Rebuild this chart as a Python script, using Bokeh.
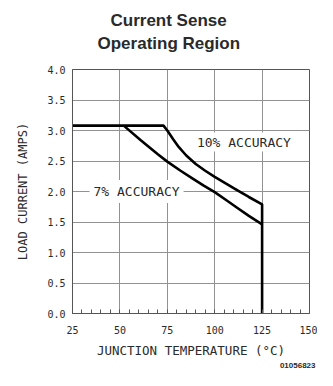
from bokeh.plotting import figure
from bokeh.models import FixedTicker, Label, NumeralTickFormatter, Title
from bokeh.embed import file_html
from bokeh.resources import INLINE

# ---- data ----
x_ticks = [25, 50, 75, 100, 125, 150]
x_minor = [v for v in range(25, 151, 5)]
y_ticks = [0.0, 0.5, 1.0, 1.5, 2.0, 2.5, 3.0, 3.5, 4.0]

temp_10 = [25, 73, 75, 78, 81, 85, 90, 95, 100, 106, 112, 118, 125, 125]
current_10 = [3.08, 3.08, 3.00, 2.86, 2.73, 2.59, 2.45, 2.34, 2.24, 2.13, 2.02, 1.91, 1.79, 0.0]

temp_7 = [52, 61, 70, 75, 82, 88, 94, 100, 106, 112, 118, 125]
current_7 = [3.08, 2.84, 2.61, 2.49, 2.34, 2.22, 2.10, 1.99, 1.86, 1.73, 1.60, 1.46]

title_lines = ["Current Sense", "Operating Region"]
label_10 = "10% ACCURACY"
label_7 = "7% ACCURACY"
x_title = "JUNCTION TEMPERATURE (°C)"
y_title = "LOAD CURRENT (AMPS)"
stamp = "01056823"

MONO = "DejaVu Sans Mono"
TXT = "#2a2a2a"
GRID = "#929292"

p = figure(width=317, height=370, x_range=(25, 150), y_range=(0, 4),
           output_backend="svg", toolbar_location=None,
           min_border_left=72, min_border_right=8, min_border_top=69,
           min_border_bottom=57)
p.background_fill_color = "white"
p.border_fill_color = "white"
p.outline_line_color = "#555555"
p.outline_line_width = 1

p.xaxis.ticker = FixedTicker(ticks=x_ticks, minor_ticks=x_minor)
p.yaxis.ticker = FixedTicker(ticks=y_ticks)
p.yaxis.formatter = NumeralTickFormatter(format="0.0")

for ax in (p.xaxis, p.yaxis):
    ax.major_label_text_font = MONO
    ax.major_label_text_font_size = "10px"
    ax.major_label_text_color = TXT
    ax.axis_label_text_font = MONO
    ax.axis_label_text_font_style = "normal"
    ax.axis_label_text_color = TXT
    ax.axis_line_color = "#555555"
    ax.major_tick_out = 0
    ax.major_tick_in = 0
    ax.minor_tick_out = 0

p.xaxis.minor_tick_in = 4
p.xaxis.minor_tick_line_color = "#555555"
p.yaxis.minor_tick_in = 0
p.yaxis.minor_tick_line_color = None

p.xaxis.axis_label = x_title
p.xaxis.axis_label_text_font_size = "12.5px"
p.xaxis.major_label_standoff = 12
p.xaxis.axis_label_standoff = 6

p.yaxis.axis_label = y_title
p.yaxis.axis_label_text_font_size = "12px"
p.yaxis.major_label_standoff = 7
p.yaxis.axis_label_standoff = 14

p.grid.grid_line_color = GRID
p.grid.grid_line_width = 1

p.line(temp_10, current_10, line_color="black", line_width=2.6)
p.line(temp_7, current_7, line_color="black", line_width=2.6)

p.add_layout(Label(x=115.4, y=2.81, text=label_10, text_font=MONO,
                   text_font_size="13px", text_color=TXT, text_align="center",
                   text_baseline="middle", background_fill_color="white",
                   padding=2))
p.add_layout(Label(x=58.8, y=2.0, text=label_7, text_font=MONO,
                   text_font_size="13px", text_color=TXT, text_align="center",
                   text_baseline="middle", background_fill_color="white",
                   padding=4))

# titles (inner first, outer last)
p.title = None
t2 = Title(text=title_lines[1], align="left", offset=25, standoff=33,
           text_font="Liberation Sans", text_font_style="bold",
           text_font_size="17px", text_color=TXT)
t1 = Title(text=title_lines[0], align="left", offset=38, standoff=-28,
           text_font="Liberation Sans", text_font_style="bold",
           text_font_size="17px", text_color=TXT)
p.add_layout(t2, "above")
p.add_layout(t1, "above")

st = Title(text=stamp, align="right", offset=-6, standoff=0,
           text_font="Liberation Sans", text_font_style="bold",
           text_font_size="8px", text_color=TXT)
p.add_layout(st, "below")

open("out.html", "w").write(file_html(p, INLINE))
